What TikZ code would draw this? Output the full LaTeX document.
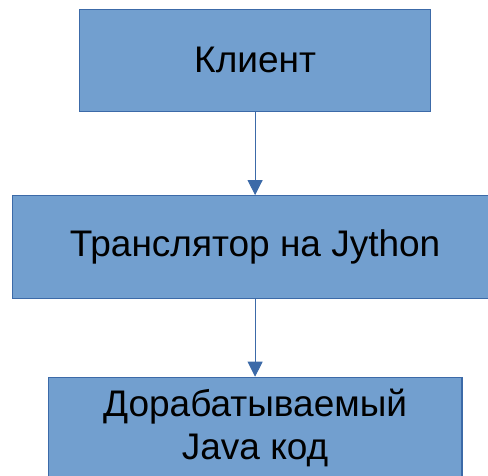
\documentclass[tikz,border=0pt]{standalone}
\usepackage{fontspec}
\setmainfont{Liberation Sans}
\usepackage{xcolor}
\usepackage{tikz}
\usetikzlibrary{arrows.meta, positioning}

\definecolor{boxfill}{HTML}{729FCF}
\definecolor{boxline}{HTML}{3C6AA8}
\definecolor{arrowline}{HTML}{5F86BF}

\tikzset{
    block/.style={draw=boxline, line width=1.2pt, fill=boxfill, align=center,
        font=\fontsize{37}{43}\selectfont, inner sep=0pt},
    link/.style={draw=arrowline, line width=0.9pt,
        -{Triangle[width=15pt, length=15pt, fill=boxline]}, boxline}
}

\begin{document}
\begin{tikzpicture}[x=1pt, y=-1pt, node distance=2cm, on grid]
        \useasboundingbox (0,0) rectangle (488,475);

        \node[block, minimum width=351pt, minimum height=102pt] (client) at (255.1,60.2) {Клиент};
        \node[block, minimum width=485.5pt, minimum height=102.6pt] (translator) [below=186.8pt of client] {Транслятор на Jython};
        \node[block, minimum width=413.7pt, minimum height=102pt] (javacode) [below=181.3pt of translator] {Дорабатываемый\\Java код};

        \path
        (client) edge[link] (translator)
        (translator) edge[link] (javacode);

    \end{tikzpicture}
\end{document}
